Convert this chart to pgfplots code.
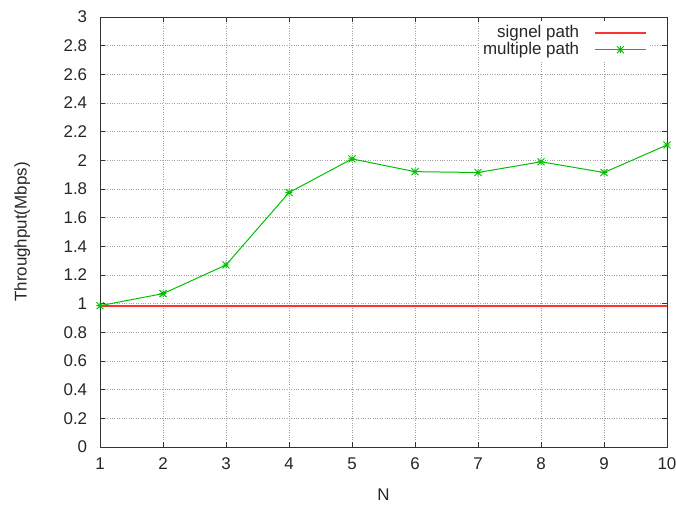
\documentclass[border=0pt]{standalone}
\usepackage{pgfplots}
\pgfplotsset{compat=1.18}
\usepackage{fontspec}
\setmainfont{Liberation Sans}
\definecolor{gpred}{RGB}{255,50,50}
\definecolor{gpgreen}{RGB}{0,192,0}
\definecolor{gridgray}{RGB}{160,160,160}
\pgfdeclareplotmark{gpstar}{%
  \pgfpathmoveto{\pgfqpoint{-\pgfplotmarksize}{0pt}}\pgfpathlineto{\pgfqpoint{\pgfplotmarksize}{0pt}}%
  \pgfpathmoveto{\pgfqpoint{0pt}{-\pgfplotmarksize}}\pgfpathlineto{\pgfqpoint{0pt}{\pgfplotmarksize}}%
  \pgfpathmoveto{\pgfqpoint{-\pgfplotmarksize}{-\pgfplotmarksize}}\pgfpathlineto{\pgfqpoint{\pgfplotmarksize}{\pgfplotmarksize}}%
  \pgfpathmoveto{\pgfqpoint{-\pgfplotmarksize}{\pgfplotmarksize}}\pgfpathlineto{\pgfqpoint{\pgfplotmarksize}{-\pgfplotmarksize}}%
  \pgfusepathqstroke}
\begin{document}
\fontsize{17}{20}\selectfont
\begin{tikzpicture}
\path[use as bounding box] (-100bp,-59bp) rectangle (576bp,447bp);
\begin{axis}[
  at={(0,0)}, anchor=south west,
  scale only axis,
  width=567bp, height=430bp,
  xmin=1, xmax=10, ymin=0, ymax=3,
  xtick={1,...,10},
  ytick={0,0.2,...,3.01},
  /pgf/number format/assume math mode=true,
  /pgf/number format/.cd, fixed, precision=1, /pgfplots/.cd,
  tick label style={font=\fontsize{17}{20}\selectfont, text=black!85},
  label style={font=\fontsize{17}{20}\selectfont, text=black!85},
  grid=major,
  major grid style={gridgray, dotted, line width=0.8bp},
  axis line style={black!80, line width=0.8bp},
  tick style={black!80, line width=0.8bp},
  tick align=inside,
  major tick length=5bp,
  xticklabel style={yshift=-5bp},
  yticklabel style={xshift=-7bp},
  xlabel={N},
  ylabel={Throughput(Mbps)},
  xlabel style={yshift=-8bp},
  ylabel style={yshift=22bp},
  legend plot pos=right,
  legend cell align=right,
  legend style={at={(0.968,0.99)}, anchor=north east, draw=none, fill=white,
    font=\fontsize{17}{20}\selectfont, text=black!85, row sep=-2bp,
    inner sep=2bp},
  legend image code/.code={%
    \draw[mark repeat=2,mark phase=2,#1] plot coordinates {(0bp,0bp) (25.5bp,0bp) (51bp,0bp)};},
]
\addplot[color=gpred, line width=1.5bp, mark=none] coordinates {
(1,0.983) (2,0.983) (3,0.983) (4,0.983) (5,0.983) (6,0.983) (7,0.983) (8,0.983) (9,0.983) (10,0.983)};
\addlegendentry{signel path\rule{13bp}{0pt}}
\addplot[gpgreen, line width=1bp, mark=gpstar, mark size=3.5bp, mark options={line width=0.9bp}] coordinates {
(1,0.986) (2,1.07) (3,1.27) (4,1.775) (5,2.01) (6,1.921) (7,1.915) (8,1.99) (9,1.915) (10,2.107)};
\addlegendentry{multiple path\rule{13bp}{0pt}}
\end{axis}
\end{tikzpicture}
\end{document}
